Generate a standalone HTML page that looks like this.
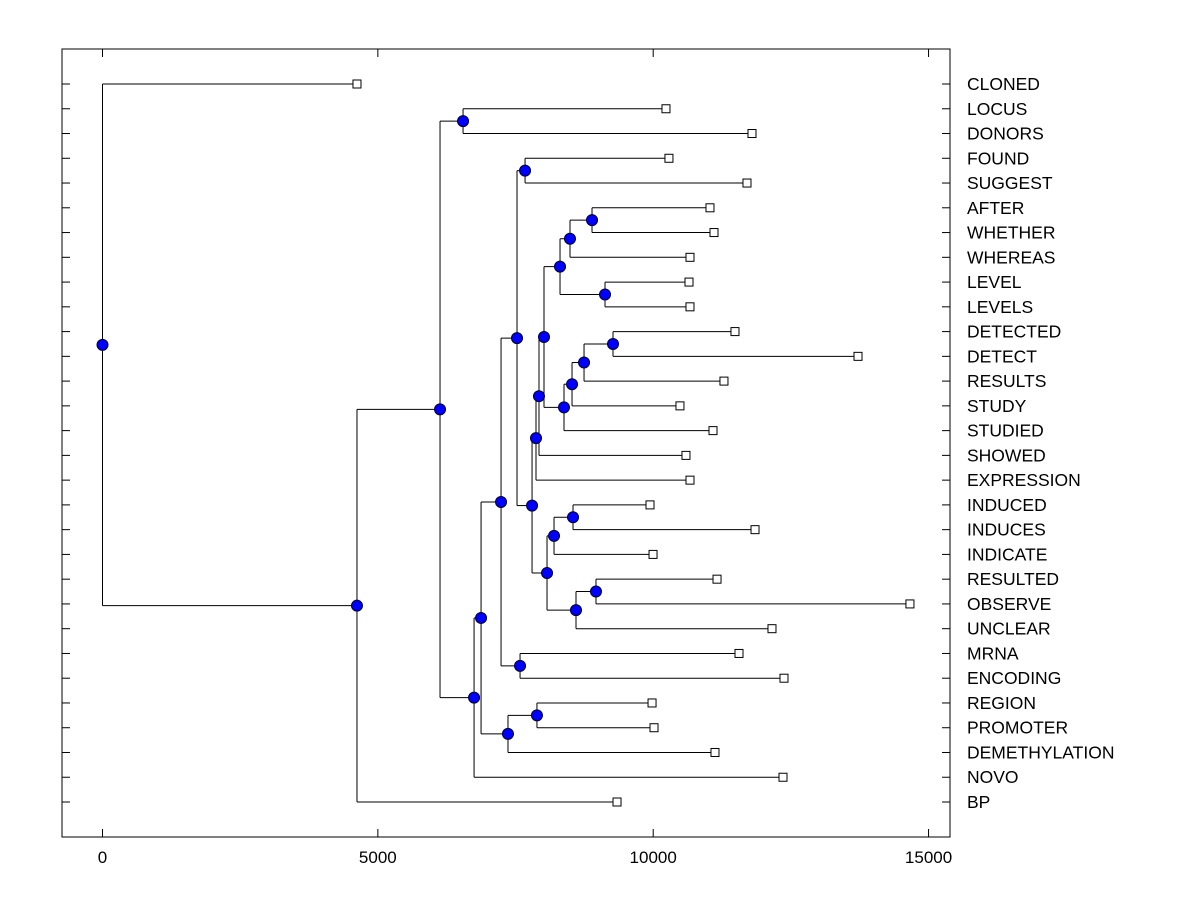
<!DOCTYPE html>
<html><head><meta charset="utf-8"><style>
html,body{margin:0;padding:0;background:#fff;}
svg{display:block;font-family:"Liberation Sans",Arial,sans-serif;}
</style></head><body>
<svg id="chart" width="1200" height="900" xmlns="http://www.w3.org/2000/svg"></svg>
<script>
const leafNames=["CLONED","LOCUS","DONORS","FOUND","SUGGEST","AFTER","WHETHER","WHEREAS","LEVEL","LEVELS","DETECTED","DETECT","RESULTS","STUDY","STUDIED","SHOWED","EXPRESSION","INDUCED","INDUCES","INDICATE","RESULTED","OBSERVE","UNCLEAR","MRNA","ENCODING","REGION","PROMOTER","DEMETHYLATION","NOVO","BP"];
const leafValues=[4621,10232,11794,10286,11703,11031,11104,10668,10650,10668,11485,13719,11285,10486,11086,10595,10668,9942,11849,9997,11159,14662,12157,11558,12375,9979,10015,11122,12357,9343];
const mergeLeft=[10,30,31,32,5,34,8,35,37,38,39,17,41,20,43,42,40,3,47,23,48,25,51,50,53,1,55,56,0];
const mergeRight=[11,12,13,14,6,7,9,36,33,15,16,18,19,21,22,44,45,4,46,24,49,26,27,52,28,2,54,29,57];
const mergeHeights=[9270,8744,8526,8380,8889,8489,9125,8308,8017,7926,7872,8544,8199,8961,8598,8072,7800,7673,7527,7582,7237,7889,7363,6874,6747,6547,6129,4621,0];
const xTicks=[0,5000,10000,15000];

const svg=document.getElementById('chart');
const NS='http://www.w3.org/2000/svg';
const L=62,T=49,R=950,B=837;
const x=v=>102.5+v*0.05507;
const y=i=>84+i*(718/29);
function mk(tag,attrs){const e=document.createElementNS(NS,tag);for(const k in attrs)e.setAttribute(k,attrs[k]);svg.appendChild(e);return e;}

let f=mk('rect',{x:L,y:T,width:R-L,height:B-T,fill:'none',stroke:'#000','stroke-width':1});



xTicks.forEach(t=>{
  let a=mk('line',{x1:x(t),x2:x(t),y1:B,y2:B-8,stroke:'#000'});
  
  
  let b=mk('line',{x1:x(t),x2:x(t),y1:T,y2:T+8,stroke:'#000'});
  
  
  let tx=mk('text',{x:x(t),y:863,'font-size':17,'text-anchor':'middle'});
  tx.textContent=t;
  
  
});

const nodeX=[],nodeY=[];
leafNames.forEach((n,i)=>{nodeX[i]=x(leafValues[i]);nodeY[i]=y(i);
  let a=mk('line',{x1:L,x2:L+8,y1:y(i),y2:y(i),stroke:'#000'});
  
  
  let b=mk('line',{x1:R-8,x2:R,y1:y(i),y2:y(i),stroke:'#000'});
  
  
  let tx=mk('text',{x:967,y:y(i)+6,'font-size':17.5});
  tx.textContent=n;
  
  
});
const N=leafNames.length;
mergeHeights.forEach((h,k)=>{
  const id=N+k,a=mergeLeft[k],b=mergeRight[k];
  nodeX[id]=x(h);nodeY[id]=(nodeY[a]+nodeY[b])/2;
  let v=mk('line',{x1:nodeX[id],x2:nodeX[id],y1:nodeY[a],y2:nodeY[b],stroke:'#000'});
  
  
  [a,b].forEach(c=>{
    let hl=mk('line',{x1:nodeX[id],x2:nodeX[c],y1:nodeY[c],y2:nodeY[c],stroke:'#000'});
    
    
  });
});
leafNames.forEach((n,i)=>{
  let s=mk('rect',{x:nodeX[i]-4,y:nodeY[i]-4,width:8,height:8,fill:'#fff',stroke:'#000'});
  
  
});
mergeHeights.forEach((h,k)=>{
  let c=mk('circle',{cx:nodeX[N+k],cy:nodeY[N+k],r:5.5,fill:'#0000ff',stroke:'#000020'});
  
  
});
</script>
</body></html>
